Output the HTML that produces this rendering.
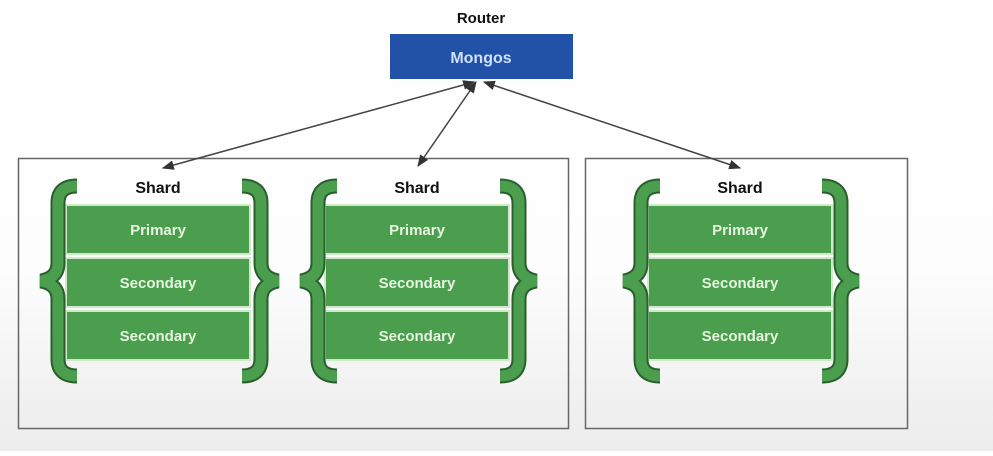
<!DOCTYPE html>
<html><head><meta charset="utf-8"><style>
html,body{margin:0;padding:0;}
body{width:993px;height:451px;overflow:hidden;background:linear-gradient(#ffffff 0%,#fdfdfd 60%,#ececec 100%);}
svg text{font-family:"Liberation Sans",sans-serif;font-weight:bold;}
</style></head><body>
<svg width="993" height="451" viewBox="0 0 993 451" xmlns="http://www.w3.org/2000/svg">
<defs>
<marker id="ah" viewBox="0 0 10 10" refX="9" refY="5" markerWidth="8" markerHeight="8" orient="auto-start-reverse">
<path d="M0,1 L10,5 L0,9 z" fill="#333"/></marker>
<g id="lb">
<path d="M40,5 Q21,5 21,22 L21,82 Q21,97 4,100 Q21,103 21,118 L21,178 Q21,195 40,195" fill="none" stroke="#2a5e2e" stroke-width="15"/>
<path d="M40,5 Q21,5 21,22 L21,82 Q21,97 4,100 Q21,103 21,118 L21,178 Q21,195 40,195" fill="none" stroke="#4a9e4e" stroke-width="11"/>
</g>
<g id="shard">
<text x="92" y="12" font-size="16" fill="#111" text-anchor="middle">Shard</text>
<rect x="0" y="24" width="184" height="49" fill="#4a9e4e" stroke="#cfe9c9" stroke-width="2"/>
<rect x="0" y="77" width="184" height="49" fill="#4a9e4e" stroke="#cfe9c9" stroke-width="2"/>
<rect x="0" y="130" width="184" height="49" fill="#4a9e4e" stroke="#cfe9c9" stroke-width="2"/>
<text x="92" y="54" font-size="15" fill="#e6f5df" text-anchor="middle">Primary</text>
<text x="92" y="107" font-size="15" fill="#e6f5df" text-anchor="middle">Secondary</text>
<text x="92" y="160" font-size="15" fill="#e6f5df" text-anchor="middle">Secondary</text>
</g>
</defs>
<rect x="18.5" y="158.5" width="550" height="270" fill="none" stroke="#666" stroke-width="1.5"/>
<rect x="585.5" y="158.5" width="322" height="270" fill="none" stroke="#666" stroke-width="1.5"/>
<text x="481" y="23" font-size="15" fill="#111" text-anchor="middle">Router</text>
<rect x="390" y="34" width="183" height="45" fill="#2152a8"/>
<text x="481" y="63" font-size="16" fill="#cfe0ff" text-anchor="middle">Mongos</text>
<line x1="474" y1="82" x2="163" y2="168" stroke="#444" stroke-width="1.5" marker-start="url(#ah)" marker-end="url(#ah)"/>
<line x1="476" y1="82" x2="418" y2="166" stroke="#444" stroke-width="1.5" marker-start="url(#ah)" marker-end="url(#ah)"/>
<line x1="484" y1="82" x2="740" y2="168" stroke="#444" stroke-width="1.5" marker-start="url(#ah)" marker-end="url(#ah)"/>
<use href="#shard" transform="translate(66,181)"/>
<use href="#shard" transform="translate(325,181)"/>
<use href="#shard" transform="translate(648,181)"/>
<use href="#lb" transform="translate(37,181)"/>
<use href="#lb" transform="translate(282,181) scale(-1,1)"/>
<use href="#lb" transform="translate(297,181)"/>
<use href="#lb" transform="translate(540,181) scale(-1,1)"/>
<use href="#lb" transform="translate(620,181)"/>
<use href="#lb" transform="translate(862,181) scale(-1,1)"/>
</svg>
</body></html>
